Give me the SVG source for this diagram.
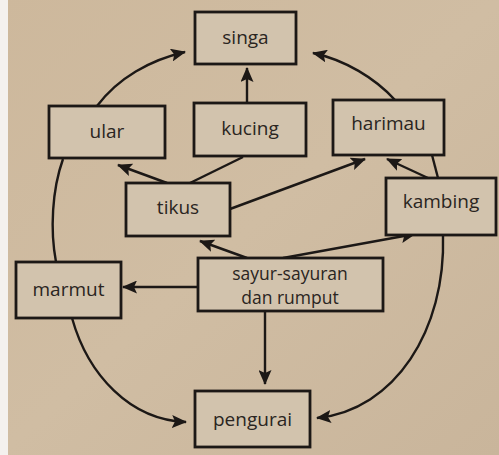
<svg xmlns="http://www.w3.org/2000/svg" width="499" height="455" viewBox="0 0 499 455">
<defs>
<linearGradient id="bg" x1="0" y1="0" x2="1" y2="1">
<stop offset="0" stop-color="#cdb89c"/>
<stop offset="0.5" stop-color="#d0bda3"/>
<stop offset="1" stop-color="#c9b59b"/>
</linearGradient>
<marker id="ah" markerUnits="userSpaceOnUse" viewBox="0 0 15 13" markerWidth="15" markerHeight="13" refX="14" refY="6.5" orient="auto">
<path d="M0,0 L15,6.5 L0,13 L3,6.5 z" fill="#1c1816"/>
</marker>
<style>
.box{fill:#d2c3ad;stroke:#1c1816;stroke-width:2.8}
.lbl{font-family:"Open Sans","Noto Sans",sans-serif;font-size:19px;fill:#2a2521;text-anchor:middle}
.sm{font-size:17.5px}
.c{fill:none;stroke:#1c1816;stroke-width:2.4}
.a{marker-end:url(#ah)}
</style>
</defs>
<rect width="499" height="455" fill="url(#bg)"/>
<rect x="0" y="0" width="8" height="455" fill="#f4f1ee"/>
<g id="connectors">
<path class="c a" d="M97,106 C118,78 150,60 185,52"/>
<path class="c a" d="M247,103 L247,68"/>
<path class="c a" d="M395,100 C375,78 345,60 313,53"/>
<path class="c a" d="M167,183 L118,165"/>
<path class="c" d="M190,183 L243,157"/>
<path class="c a" d="M230,209 L365,159"/>
<path class="c a" d="M428,178 L387,159"/>
<path class="c" d="M432,155 L438,178"/>
<path class="c a" d="M247,258 L200,241"/>
<path class="c a" d="M283,258 L415,234"/>
<path class="c a" d="M198,287 L123,287"/>
<path class="c a" d="M265,311 L265,384"/>
<path class="c a" d="M72,318 C88,375 130,420 186,422"/>
<path class="c a" d="M443,235 C446,330 395,410 317,418"/>
<path class="c" d="M63,159 C52,190 50,230 56,262"/>
</g>
<g id="singa"><rect class="box" x="195" y="12" width="101" height="52"/><text class="lbl" x="245.5" y="44">singa</text></g>
<g id="ular"><rect class="box" x="49" y="106" width="116" height="52"/><text class="lbl" x="107" y="138">ular</text></g>
<g id="kucing"><rect class="box" x="194" y="103" width="112" height="53"/><text class="lbl" x="250" y="135">kucing</text></g>
<g id="harimau"><rect class="box" x="333" y="100" width="111" height="55"/><text class="lbl" x="388.5" y="130">harimau</text></g>
<g id="kambing"><rect class="box" x="386" y="178" width="110" height="57"/><text class="lbl" x="441" y="208">kambing</text></g>
<g id="tikus"><rect class="box" x="126" y="183" width="104" height="53"/><text class="lbl" x="178" y="214">tikus</text></g>
<g id="marmut"><rect class="box" x="16" y="262" width="105" height="56"/><text class="lbl" x="68.5" y="296">marmut</text></g>
<g id="sayur"><rect class="box" x="198" y="258" width="185" height="53"/><text class="lbl sm" x="290" y="280">sayur-sayuran</text><text class="lbl sm" x="290" y="304">dan rumput</text></g>
<g id="pengurai"><rect class="box" x="195" y="391" width="115" height="56"/><text class="lbl" x="252.5" y="426">pengurai</text></g>
</svg>
